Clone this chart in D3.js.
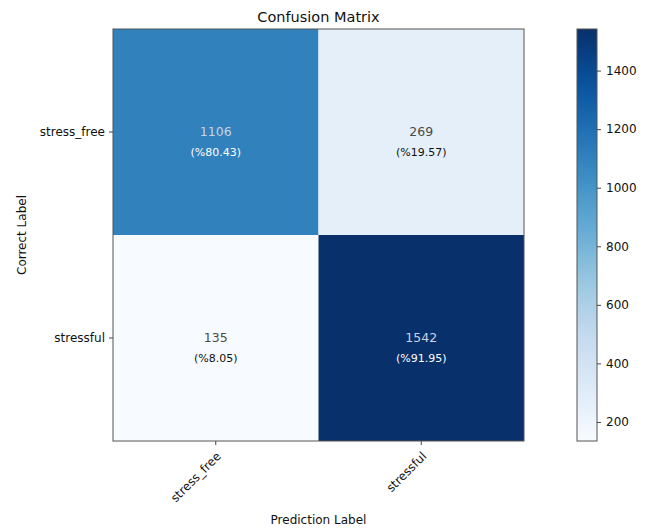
<!DOCTYPE html>
<html>
<head>
<meta charset="utf-8">
<script src="https://cdn.jsdelivr.net/npm/d3@7"></script>
<style>
  body { margin: 0; background: #fff; }
  svg text { font-family: "DejaVu Sans", sans-serif; }
</style>
</head>
<body>
<svg id="chart" width="648" height="530"></svg>
<script>
// Class names shared by rows (true labels) and columns (predictions)
const classes = ["stress_free", "stressful"];
// Counts per [true][predicted]
const counts = [[1106, 269], [135, 1542]];
// Row-wise percentages shown under each count
const percents = [[80.43, 19.57], [8.05, 91.95]];
// Colorbar tick values
const colorTicks = [200, 400, 600, 800, 1000, 1200, 1400];
// Sequential "Blues" palette anchors
const bluesStops = ["#f7fbff", "#deebf7", "#c6dbef", "#9ecae1", "#6baed6",
                    "#4292c6", "#2171b5", "#08519c", "#08306b"];

const svg = d3.select("#chart");
const plot = { left: 113, top: 29, right: 524, bottom: 441 };
const cbar = { left: 577, right: 597 };

const flat = counts.flat();
const vmin = d3.min(flat), vmax = d3.max(flat);

const color = d3.scaleLinear()
  .domain(bluesStops.map((_, i) => vmin + (vmax - vmin) * i / (bluesStops.length - 1)))
  .range(bluesStops)
  .interpolate(d3.interpolateRgb);

const x = d3.scaleBand().domain(classes).range([plot.left, plot.right]);
const y = d3.scaleBand().domain(classes).range([plot.top, plot.bottom]);

// Title
svg.append("text")
  .attr("x", (plot.left + plot.right) / 2)
  .attr("y", 22)
  .attr("text-anchor", "middle")
  .attr("font-size", 14.5)
  .attr("fill", "#111")
  .text("Confusion Matrix");

// Cells
const cells = [];
counts.forEach((row, i) => row.forEach((v, j) => cells.push({ i, j, v, p: percents[i][j] })));

svg.append("g").selectAll("rect")
  .data(cells)
  .join("rect")
  .attr("x", d => x(classes[d.j]))
  .attr("y", d => y(classes[d.i]))
  .attr("width", x.bandwidth())
  .attr("height", y.bandwidth())
  .attr("fill", d => color(d.v));

const thresh = vmax / 2;
const labels = svg.append("g").selectAll("g")
  .data(cells)
  .join("g")
  .attr("transform", d => `translate(${x(classes[d.j]) + x.bandwidth() / 2},${y(classes[d.i]) + y.bandwidth() / 2})`);

labels.append("text")
  .attr("text-anchor", "middle")
  .attr("dy", "0.35em")
  .attr("font-size", 12.5)
  .attr("fill", d => d.v > thresh ? "#c8d2e2" : "#4a4a4a")
  .text(d => d.v);

labels.append("text")
  .attr("text-anchor", "middle")
  .attr("y", 20)
  .attr("dy", "0.35em")
  .attr("font-size", 11)
  .attr("fill", d => d.v > thresh ? "#ffffff" : "#111")
  .text(d => `(%${d.p.toFixed(2)})`);

// Plot frame
svg.append("rect")
  .attr("x", plot.left).attr("y", plot.top)
  .attr("width", plot.right - plot.left).attr("height", plot.bottom - plot.top)
  .attr("fill", "none").attr("stroke", "#555").attr("stroke-width", 1);

// Y axis
const yAxis = svg.append("g")
  .attr("transform", `translate(${plot.left},0)`)
  .call(d3.axisLeft(y).tickSize(4).tickPadding(4));
yAxis.select(".domain").remove();
yAxis.selectAll("line").attr("stroke", "#444");
yAxis.selectAll("text").attr("font-size", 12).attr("fill", "#111").attr("font-family", "DejaVu Sans");

// X axis with rotated labels
const xAxis = svg.append("g")
  .attr("transform", `translate(0,${plot.bottom})`)
  .call(d3.axisBottom(x).tickSize(4).tickPadding(4));
xAxis.select(".domain").remove();
xAxis.selectAll("line").attr("stroke", "#444");
xAxis.selectAll("text")
  .attr("font-size", 12).attr("fill", "#111").attr("font-family", "DejaVu Sans")
  .attr("text-anchor", "end")
  .attr("dy", null)
  .attr("y", 0)
  .attr("transform", "translate(6,16) rotate(-45)");

// Axis titles
svg.append("text")
  .attr("transform", `translate(26,${(plot.top + plot.bottom) / 2}) rotate(-90)`)
  .attr("text-anchor", "middle")
  .attr("font-size", 12)
  .attr("fill", "#111")
  .text("Correct Label");

svg.append("text")
  .attr("x", (plot.left + plot.right) / 2)
  .attr("y", 524)
  .attr("text-anchor", "middle")
  .attr("font-size", 12)
  .attr("fill", "#111")
  .text("Prediction Label");

// Colorbar
const cy = d3.scaleLinear().domain([vmin, vmax]).range([plot.bottom, plot.top]);
const defs = svg.append("defs");
const grad = defs.append("linearGradient")
  .attr("id", "cbGrad")
  .attr("x1", 0).attr("y1", 1).attr("x2", 0).attr("y2", 0);
d3.range(0, 1.0001, 0.05).forEach(t => {
  grad.append("stop")
    .attr("offset", t)
    .attr("stop-color", color(vmin + t * (vmax - vmin)));
});

svg.append("rect")
  .attr("x", cbar.left).attr("y", plot.top)
  .attr("width", cbar.right - cbar.left).attr("height", plot.bottom - plot.top)
  .attr("fill", "url(#cbGrad)")
  .attr("stroke", "#555").attr("stroke-width", 1);

const cAxis = svg.append("g")
  .attr("transform", `translate(${cbar.right},0)`)
  .call(d3.axisRight(cy).tickValues(colorTicks).tickFormat(d3.format("d")).tickSize(4).tickPadding(5));
cAxis.select(".domain").remove();
cAxis.selectAll("line").attr("stroke", "#444");
cAxis.selectAll("text").attr("font-size", 12).attr("fill", "#111").attr("font-family", "DejaVu Sans");
</script>
</body>
</html>
